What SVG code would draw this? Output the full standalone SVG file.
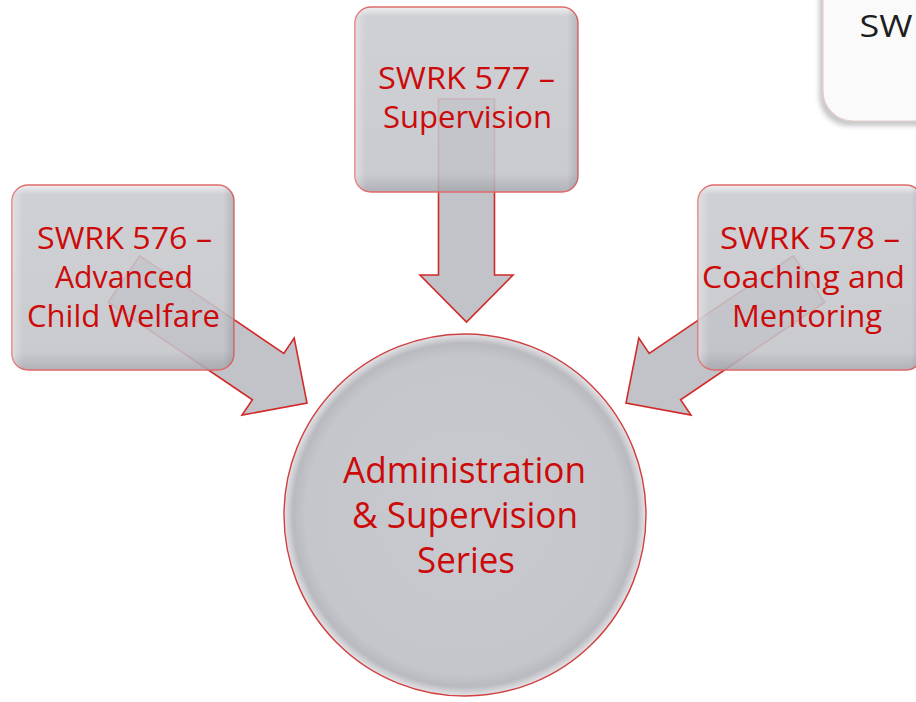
<svg xmlns="http://www.w3.org/2000/svg" width="916" height="702" viewBox="0 0 916 702">
  <defs>
    <linearGradient id="boxGrad" x1="0" y1="0" x2="0" y2="1">
      <stop offset="0" stop-color="#eeeef1"/>
      <stop offset="0.05" stop-color="#c9cacf"/>
      <stop offset="0.9" stop-color="#c3c4c9"/>
      <stop offset="1" stop-color="#a6a7ad"/>
    </linearGradient>
    <linearGradient id="boxSide" x1="0" y1="0" x2="1" y2="0">
      <stop offset="0" stop-color="#ffffff" stop-opacity="0.35"/>
      <stop offset="0.05" stop-color="#ffffff" stop-opacity="0"/>
      <stop offset="0.95" stop-color="#000000" stop-opacity="0"/>
      <stop offset="1" stop-color="#000000" stop-opacity="0.12"/>
    </linearGradient>
    <radialGradient id="circGrad" cx="0.5" cy="0.5" r="0.5">
      <stop offset="0" stop-color="#c9cacf"/>
      <stop offset="0.88" stop-color="#c5c6cb"/>
      <stop offset="0.95" stop-color="#b9babf"/>
      <stop offset="1" stop-color="#e4e4e8"/>
    </radialGradient>
    <filter id="blur" x="-20%" y="-20%" width="140%" height="140%">
      <feGaussianBlur stdDeviation="2.5"/>
    </filter>
  </defs>
  <style>
    .arrow { fill: #c2c3c8; stroke: #d22a2a; stroke-width: 1.6; stroke-linejoin: miter; }
    .box { stroke: #e06a6a; stroke-width: 1.4; fill-opacity: 0.88; }
    .boxshade { fill: url(#boxSide); stroke: none; }
    .lbl { font-family: "Open Sans", Lato, "Liberation Sans", sans-serif; fill: #cc0a0a; text-anchor: middle; font-size: 31px; }
    .big { font-size: 36px; }
  </style>
  <rect width="916" height="702" fill="#ffffff"/>

  <!-- partial box top right -->
  <g id="node-partial">
    <rect x="819" y="-30" width="130" height="156" rx="30" fill="#c8c8c8" filter="url(#blur)"/>
    <rect x="823" y="-30" width="120" height="151" rx="30" fill="#fafafa" stroke="#e6cfcf" stroke-width="1.2"/>
    <text x="886" y="37" font-family="'Open Sans', Lato, 'Liberation Sans', sans-serif" font-size="31" fill="#1e1e1e" text-anchor="middle" textLength="53" lengthAdjust="spacingAndGlyphs">SW</text>
  </g>

  <!-- connectors -->
  <g id="connectors">
    <polygon class="arrow" points="438.5,99 494.5,99 494.5,275 513,275 466.5,322 420,275 438.5,275"/>
    <polygon class="arrow" points="139.7,255.8 283.8,353.4 294.2,338.1 307,403 242,415.1 252.4,399.8 108.3,302.2"/>
    <polygon class="arrow" points="793.3,255.8 649.2,353.4 638.8,338.1 626,403 691,415.1 680.6,399.8 824.7,302.2"/>
  </g>

  <g id="node-577">
    <rect class="box" x="355" y="7" width="223" height="185" rx="16" fill="url(#boxGrad)"/>
    <rect class="boxshade" x="355" y="7" width="223" height="185" rx="16"/>
    <text class="lbl" x="466.5" y="89" textLength="177" lengthAdjust="spacingAndGlyphs">SWRK 577 –</text>
    <text class="lbl" x="467.5" y="128" textLength="169" lengthAdjust="spacingAndGlyphs">Supervision</text>
  </g>

  <g id="node-576">
    <rect class="box" x="12" y="185" width="222" height="185" rx="16" fill="url(#boxGrad)"/>
    <rect class="boxshade" x="12" y="185" width="222" height="185" rx="16"/>
    <text class="lbl" x="124.5" y="249" textLength="175" lengthAdjust="spacingAndGlyphs">SWRK 576 –</text>
    <text class="lbl" x="124" y="288" textLength="138" lengthAdjust="spacingAndGlyphs">Advanced</text>
    <text class="lbl" x="123.5" y="327" textLength="193" lengthAdjust="spacingAndGlyphs">Child Welfare</text>
  </g>

  <g id="node-578">
    <rect class="box" x="698" y="185" width="224" height="185" rx="16" fill="url(#boxGrad)"/>
    <rect class="boxshade" x="698" y="185" width="224" height="185" rx="16"/>
    <text class="lbl" x="810" y="249" textLength="180" lengthAdjust="spacingAndGlyphs">SWRK 578 –</text>
    <text class="lbl" x="803.5" y="288" textLength="203" lengthAdjust="spacingAndGlyphs">Coaching and</text>
    <text class="lbl" x="807" y="327" textLength="150" lengthAdjust="spacingAndGlyphs">Mentoring</text>
  </g>

  <g id="node-series">
    <circle cx="465" cy="515" r="181" fill="url(#circGrad)" stroke="#d04040" stroke-width="1.4"/>
    <text class="lbl big" x="464.5" y="483" textLength="243" lengthAdjust="spacingAndGlyphs">Administration</text>
    <text class="lbl big" x="465" y="528" textLength="226" lengthAdjust="spacingAndGlyphs">&amp; Supervision</text>
    <text class="lbl big" x="466" y="573" textLength="98" lengthAdjust="spacingAndGlyphs">Series</text>
  </g>
</svg>
